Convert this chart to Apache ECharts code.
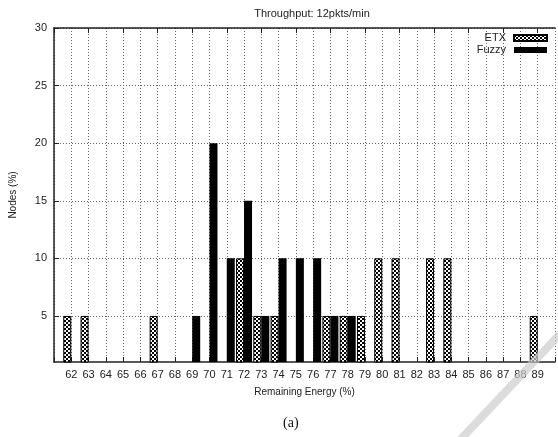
<!DOCTYPE html>
<html>
<head>
<meta charset="utf-8">
<script src="https://cdn.jsdelivr.net/npm/echarts@6/dist/echarts.min.js"></script>
<style>
  html, body { margin: 0; padding: 0; background: #fff; }
  #chart { width: 558px; height: 437px; }
</style>
</head>
<body>
<div id="chart"></div>
<script>
// categories 61..90, only 62..89 get labels (61 and 90 are the plot edges)
const energy = [61, 62, 63, 64, 65, 66, 67, 68, 69, 70, 71, 72, 73, 74, 75,
  76, 77, 78, 79, 80, 81, 82, 83, 84, 85, 86, 87, 88, 89, 90]
const etxNodes = [null, 5, 5, null, null, null, 5, null, null, null, null, 10, 5, 5, null,
  null, 5, 5, 5, 10, 10, null, 10, 10, null, null, null, null, 5, null]
const fuzzyNodes = [null, null, null, null, null, null, null, null, 5, 20, 10, 15, 5, 10, 10,
  10, 5, 5, null, null, null, null, null, null, null, null, null, null, null, null]
const yTicks = [5, 10, 15, 20, 25, 30]

// checkered fill for ETX
const pat = document.createElement('canvas')
pat.width = 4
pat.height = 4
const pctx = pat.getContext('2d')
pctx.fillStyle = '#fff'
pctx.fillRect(0, 0, 4, 4)
pctx.fillStyle = '#000'
pctx.fillRect(0, 0, 2, 2)
pctx.fillRect(2, 2, 2, 2)

const font = 'Liberation Sans'
const chart = echarts.init(document.getElementById('chart'))

chart.setOption({
  animation: false,
  title: {
    text: 'Throughput: 12pkts/min',
    left: 307,
    textAlign: 'center',
    top: 3,
    textStyle: { fontFamily: font, fontSize: 11, fontWeight: 'normal', color: '#222' }
  },
  legend: {
    orient: 'vertical',
    right: 10,
    top: 32,
    padding: 0,
    align: 'right',
    itemWidth: 33,
    itemHeight: 6,
    itemGap: 0,
    icon: 'rect',
    textStyle: { fontFamily: font, fontSize: 11, lineHeight: 12, color: '#222', padding: [0, 3, 0, 0] },
    data: ['ETX', 'Fuzzy']
  },
  grid: { left: 53, right: -3, top: 28, bottom: 75 },
  xAxis: [
    {
      type: 'category',
      data: energy,
      boundaryGap: false,
      name: 'Remaining Energy (%)',
      nameLocation: 'middle',
      nameGap: 25,
      nameTextStyle: { fontFamily: font, fontSize: 10, color: '#222' },
      axisLine: { lineStyle: { color: '#222', width: 1.5 } },
      axisTick: { inside: true, length: 5, lineStyle: { color: '#222' } },
      axisLabel: {
        interval: 0,
        margin: 7,
        fontFamily: font,
        fontSize: 11,
        color: '#222',
        formatter: (v, i) => (i === 0 || i === energy.length - 1) ? '' : v
      },
      splitLine: { show: true, lineStyle: { color: '#666', type: [1, 2], width: 1 } }
    },
    {
      type: 'category',
      data: energy,
      boundaryGap: false,
      position: 'top',
      axisLine: { lineStyle: { color: '#222', width: 1.5 } },
      axisTick: { inside: true, length: 5, lineStyle: { color: '#222' } },
      axisLabel: { show: false },
      splitLine: { show: false }
    }
  ],
  yAxis: {
    type: 'value',
    min: 1,
    max: 30,
    name: 'Nodes (%)',
    nameLocation: 'middle',
    nameGap: 36,
    nameTextStyle: { fontFamily: font, fontSize: 10, color: '#222' },
    axisLine: { show: true, lineStyle: { color: '#222', width: 1.5 } },
    axisTick: { show: true, inside: true, length: 5, customValues: yTicks, lineStyle: { color: '#222' } },
    axisLabel: { customValues: yTicks, margin: 7, fontFamily: font, fontSize: 11, color: '#222' },
    splitLine: { show: true, lineStyle: { color: '#666', type: [1, 2], width: 1 } }
  },
  series: [
    {
      name: 'ETX',
      type: 'bar',
      data: etxNodes,
      barWidth: 8,
      barGap: '0%',
      itemStyle: { color: { image: pat, repeat: 'repeat' }, borderColor: '#000', borderWidth: 1 }
    },
    {
      name: 'Fuzzy',
      type: 'bar',
      data: fuzzyNodes,
      barWidth: 8,
      barGap: '0%',
      itemStyle: { color: '#000' }
    }
  ],
  graphic: [
    {
      type: 'text',
      left: 283,
      top: 416,
      style: { text: '(a)', fontFamily: 'Liberation Serif', fontSize: 14, fill: '#111' }
    },
    {
      type: 'line',
      z: 100,
      shape: { x1: 460, y1: 440, x2: 560, y2: 334 },
      style: { stroke: 'rgba(205,205,205,0.7)', lineWidth: 8 }
    }
  ]
})
</script>
</body>
</html>
